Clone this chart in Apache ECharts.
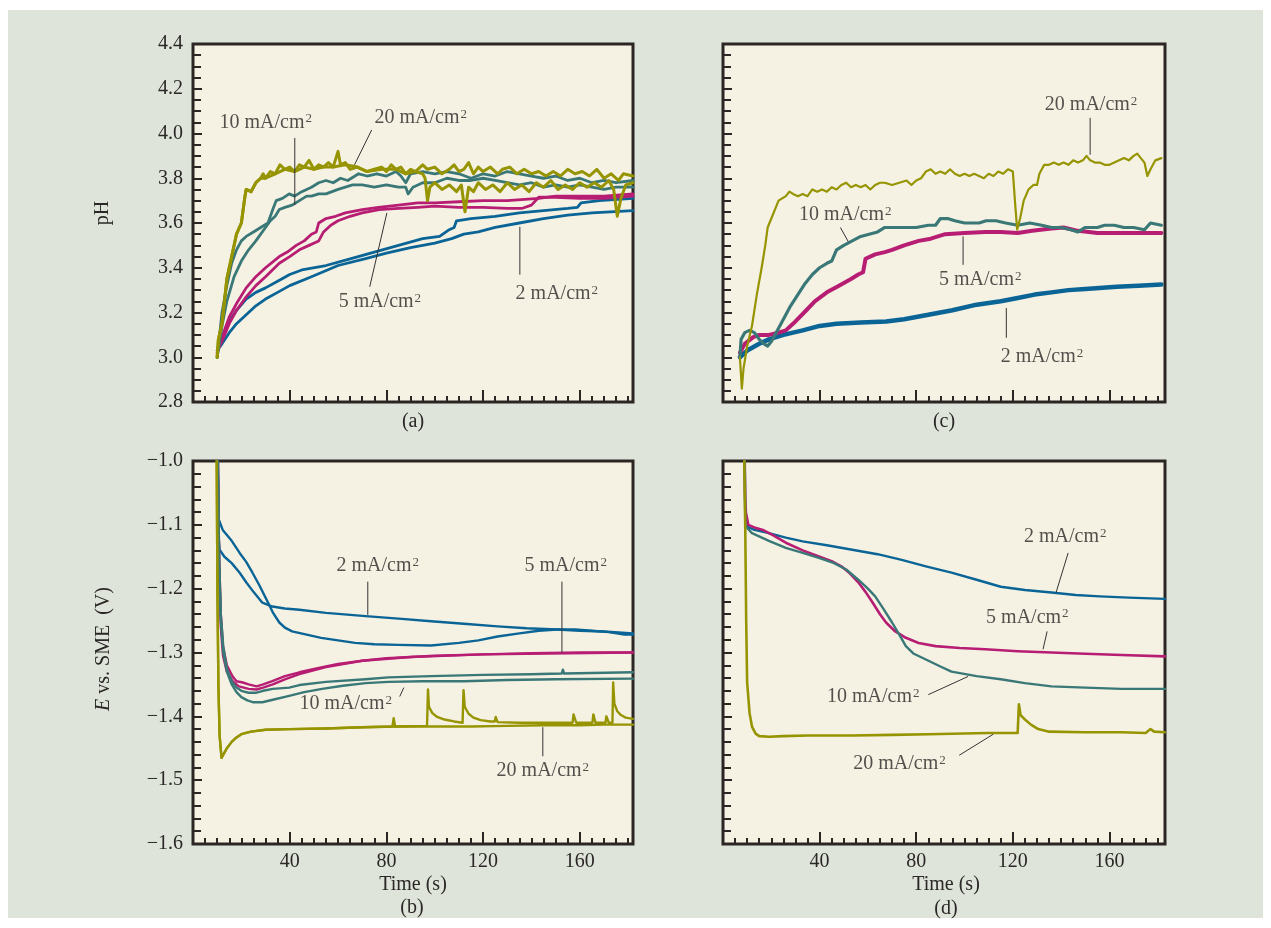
<!DOCTYPE html>
<html>
<head>
<meta charset="utf-8">
<script src="https://cdn.jsdelivr.net/npm/echarts@6/dist/echarts.min.js"></script>
<style>
  html, body { margin: 0; padding: 0; background: #ffffff; }
  #frame { position: absolute; left: 8px; top: 10px; width: 1255px; height: 908px; background: #dfe4db; }
  #chart { position: absolute; left: 0; top: 0; width: 1271px; height: 928px; }
</style>
</head>
<body>
<div id="frame"></div>
<div id="chart"></div>
<script>
// ---- Data: time (s) vs pH / potential, per current density ----
const xMajorTicks = [40, 80, 120, 160];

// (a) pH, two runs per current density
const phA20a = [[10,3.0],[10.5,3.08],[12,3.15],[14,3.35],[16,3.45],[18,3.55],[20,3.6],[21.5,3.72],[22,3.75],[24,3.74],[26,3.78],[28,3.8],[29,3.82],[30,3.8],[32,3.83],[34,3.82],[36,3.86],[38,3.84],[40,3.85],[42,3.83],[44,3.86],[46,3.85],[48,3.88],[50,3.84],[52,3.86],[54,3.85],[56,3.87],[58,3.85],[60,3.92],[61,3.86],[63,3.87],[65,3.84],[68,3.85],[70,3.84],[72,3.83],[75,3.84],[78,3.85],[80,3.83],[82,3.86],[84,3.84],[86,3.85],[88,3.82],[90,3.84],[92,3.83],[95,3.86],[97,3.84],[100,3.85],[103,3.82],[106,3.84],[108,3.86],[110,3.83],[112,3.84],[114,3.87],[116,3.82],[118,3.85],[120,3.83],[123,3.85],[126,3.82],[128,3.84],[131,3.85],[134,3.82],[137,3.84],[140,3.82],[143,3.83],[146,3.81],[149,3.83],[152,3.81],[155,3.84],[158,3.82],[161,3.83],[164,3.81],[167,3.84],[170,3.8],[173,3.82],[176,3.79],[178,3.82],[182,3.81]];
const phA20b = [[10,3.0],[10.5,3.08],[12,3.15],[14,3.35],[16,3.45],[18,3.55],[20,3.6],[21.5,3.72],[22,3.75],[24,3.74],[26,3.78],[28,3.8],[30,3.8],[34,3.82],[38,3.84],[42,3.83],[46,3.85],[50,3.84],[54,3.85],[58,3.85],[63,3.86],[68,3.85],[72,3.83],[78,3.84],[84,3.84],[88,3.82],[92,3.83],[95,3.82],[96,3.8],[97,3.7],[98,3.76],[100,3.78],[103,3.75],[106,3.77],[109,3.74],[111,3.77],[112.5,3.65],[114,3.76],[116,3.74],[118,3.78],[121,3.75],[124,3.77],[127,3.74],[130,3.78],[133,3.75],[136,3.77],[139,3.74],[142,3.78],[145,3.76],[148,3.79],[151,3.75],[154,3.77],[157,3.75],[160,3.78],[163,3.76],[166,3.78],[169,3.76],[172,3.79],[174,3.75],[175.5,3.63],[177,3.71],[179,3.77],[182,3.78]];
const phA10a = [[10,3.0],[11,3.1],[12,3.2],[14,3.32],[16,3.42],[18,3.48],[20,3.52],[22,3.54],[25,3.56],[28,3.58],[31,3.6],[33,3.66],[34.4,3.7],[37,3.71],[39.8,3.73],[42,3.72],[45,3.74],[47,3.75],[49,3.76],[52,3.78],[55,3.79],[58,3.78],[61,3.8],[64,3.79],[68.5,3.82],[72,3.81],[76,3.82],[80,3.81],[84,3.83],[86,3.81],[88,3.78],[90,3.82],[95,3.83],[100,3.82],[105,3.83],[110,3.82],[115,3.8],[120,3.82],[125,3.81],[130,3.83],[135,3.82],[140,3.81],[145,3.8],[150,3.81],[155,3.79],[160,3.8],[165,3.78],[170,3.79],[175,3.78],[182,3.79]];
const phA10b = [[10,3.0],[12,3.14],[14,3.25],[17,3.36],[20,3.43],[23,3.48],[26,3.52],[28,3.55],[30,3.58],[32,3.61],[34,3.63],[35.7,3.66],[38,3.67],[41,3.68],[44,3.7],[47,3.72],[49,3.72],[52,3.73],[55,3.73],[60,3.75],[63,3.76],[66,3.77],[70,3.77],[75,3.76],[80,3.77],[85,3.76],[88,3.76],[89,3.73],[91,3.76],[95,3.78],[100,3.78],[105,3.8],[110,3.79],[115,3.79],[120,3.8],[125,3.79],[130,3.78],[135,3.77],[140,3.78],[145,3.76],[150,3.77],[155,3.76],[160,3.77],[165,3.76],[170,3.75],[175,3.76],[182,3.76]];
const phA5a = [[10,3.02],[11,3.06],[12.3,3.1],[15,3.18],[18,3.24],[22,3.31],[26,3.36],[30,3.4],[35.7,3.45],[39,3.47],[42.7,3.5],[46,3.52],[49,3.55],[51,3.56],[52,3.6],[55,3.62],[59,3.63],[63,3.645],[70,3.66],[76.7,3.67],[85,3.68],[93,3.69],[100,3.69],[110,3.695],[120,3.7],[130,3.7],[143,3.71],[150,3.72],[160,3.72],[170,3.72],[182,3.73]];
const phA5b = [[10,3.02],[11,3.05],[12.3,3.08],[15,3.15],[18,3.21],[22,3.27],[26,3.32],[30,3.36],[35.7,3.42],[40,3.45],[44,3.48],[48,3.5],[52,3.52],[54,3.56],[57,3.59],[60,3.61],[65,3.63],[70,3.645],[77,3.66],[85,3.665],[93,3.67],[100,3.675],[110,3.67],[120,3.67],[130,3.665],[136,3.665],[140,3.68],[143,3.715],[150,3.715],[160,3.71],[170,3.71],[182,3.72]];
const phA2a = [[10,3.03],[12,3.09],[15,3.16],[18,3.21],[22,3.26],[26,3.29],[30,3.31],[35,3.34],[40,3.37],[45,3.39],[55,3.41],[65,3.44],[75,3.47],[85,3.5],[95,3.53],[102,3.54],[106,3.57],[108,3.58],[109,3.61],[115,3.62],[125,3.63],[135,3.645],[145,3.655],[155,3.665],[159,3.67],[160.5,3.69],[168,3.7],[182,3.71]];
const phA2b = [[10,3.03],[12,3.06],[15,3.11],[18,3.15],[22,3.19],[26,3.23],[30,3.26],[35,3.29],[40,3.32],[49,3.36],[60,3.41],[71,3.44],[80,3.465],[90,3.49],[100,3.51],[107,3.53],[112,3.55],[118,3.56],[125,3.58],[135,3.6],[145,3.62],[155,3.635],[165,3.645],[182,3.655]];

// (c) pH, single run per current density
const phC20 = [[7,3.0],[7.8,2.86],[8.5,2.95],[10,3.05],[12,3.14],[14,3.28],[16,3.4],[17.5,3.5],[18.5,3.58],[20,3.62],[21.5,3.66],[23,3.7],[24.5,3.71],[26,3.72],[27.5,3.74],[29,3.73],[31,3.72],[33,3.73],[35,3.72],[37,3.75],[39,3.74],[41,3.75],[43,3.74],[45,3.76],[47,3.75],[49,3.77],[51,3.78],[53,3.76],[55,3.77],[57,3.76],[59,3.77],[61,3.75],[63,3.77],[65,3.78],[67,3.78],[70,3.77],[73,3.78],[76,3.79],[78,3.77],[80,3.79],[82,3.8],[84,3.83],[86,3.84],[88,3.82],[90,3.83],[92,3.82],[94,3.84],[96,3.82],[98,3.81],[100,3.82],[102,3.81],[104,3.82],[106,3.81],[108,3.8],[110,3.82],[112,3.81],[114,3.83],[116,3.82],[118,3.84],[120,3.83],[121,3.68],[121.8,3.57],[123,3.62],[124.5,3.7],[126.5,3.75],[128.5,3.77],[130,3.77],[131,3.82],[133,3.86],[135,3.86],[137,3.87],[139,3.86],[141,3.87],[143,3.86],[145,3.88],[147,3.87],[149,3.88],[150.5,3.9],[152,3.88],[154,3.87],[156,3.87],[158,3.86],[160,3.86],[162,3.87],[164,3.88],[166,3.89],[168,3.88],[170,3.9],[171.5,3.91],[173,3.89],[174.5,3.87],[175.7,3.81],[177,3.84],[179,3.88],[181.5,3.89]];
const phC10 = [[7,3.0],[7.5,3.08],[9,3.11],[11,3.12],[13,3.11],[15,3.08],[17,3.06],[18.5,3.05],[20,3.07],[22,3.11],[25,3.17],[28,3.23],[31,3.28],[34,3.33],[37,3.37],[40,3.4],[43,3.42],[45,3.43],[47,3.48],[50,3.5],[53.5,3.52],[57,3.54],[60.5,3.55],[64,3.56],[67,3.58],[70,3.58],[75,3.58],[80,3.58],[85,3.59],[88,3.59],[90,3.62],[93,3.62],[96,3.61],[100,3.6],[103,3.6],[106,3.6],[109,3.61],[113,3.61],[117,3.6],[122,3.59],[127,3.6],[132,3.59],[136,3.58],[140,3.58],[144,3.57],[147,3.56],[150,3.58],[155,3.58],[158,3.59],[162,3.59],[166,3.58],[170,3.58],[174.5,3.57],[177,3.6],[181.5,3.59]];
const phC5 = [[7,3.02],[9,3.06],[12.5,3.09],[15,3.1],[19,3.1],[23,3.11],[26,3.12],[30,3.16],[34.5,3.21],[38,3.25],[43,3.29],[48,3.32],[53,3.35],[56,3.37],[58,3.38],[59,3.44],[63,3.46],[67,3.47],[70,3.48],[75,3.5],[81,3.52],[86,3.53],[92,3.55],[100,3.555],[108.6,3.56],[115,3.56],[122,3.555],[128,3.565],[136,3.575],[141,3.58],[147,3.565],[155,3.555],[163,3.555],[172,3.555],[181.5,3.555]];
const phC2 = [[7,3.0],[10,3.03],[15,3.06],[19,3.08],[25,3.1],[33,3.12],[40,3.14],[47,3.15],[57,3.155],[67.5,3.16],[75,3.17],[85,3.19],[95,3.21],[105,3.235],[115,3.25],[122,3.265],[129,3.28],[136,3.29],[143,3.3],[150,3.305],[163,3.315],[172,3.32],[181.5,3.325]];

// (b) potential E vs. SME (V), two runs per current density
const eB20a = [[9.8,-1.0],[10.1,-1.2],[10.5,-1.35],[11,-1.43],[11.8,-1.465],[12.5,-1.462],[14,-1.45],[16,-1.44],[18,-1.433],[20,-1.428],[24,-1.424],[30,-1.421],[40,-1.42],[55,-1.419],[70,-1.417],[82.5,-1.416],[83,-1.403],[83.6,-1.416],[100,-1.416],[115,-1.416],[130,-1.415],[145,-1.414],[160,-1.414],[170,-1.413],[182,-1.413]];
const eB20b = [[9.8,-1.0],[10.1,-1.2],[10.5,-1.35],[11,-1.43],[11.8,-1.465],[12.5,-1.462],[14,-1.45],[16,-1.44],[18,-1.433],[20,-1.428],[24,-1.424],[30,-1.421],[40,-1.42],[55,-1.419],[70,-1.417],[85,-1.416],[96.8,-1.415],[97.2,-1.358],[97.6,-1.385],[99,-1.395],[101,-1.401],[104,-1.405],[108,-1.408],[111.5,-1.41],[111.9,-1.359],[112.4,-1.385],[114,-1.396],[116,-1.402],[119,-1.406],[123,-1.408],[124.8,-1.408],[125.2,-1.401],[126,-1.409],[135,-1.41],[145,-1.41],[157,-1.41],[157.4,-1.397],[158.5,-1.41],[165.2,-1.41],[165.6,-1.397],[166.5,-1.41],[170.6,-1.41],[171,-1.4],[172,-1.41],[173.5,-1.41],[173.8,-1.347],[174.3,-1.38],[175.5,-1.392],[177,-1.398],[179,-1.402],[182,-1.404]];
const eB10a = [[10.3,-1.0],[10.8,-1.16],[11.5,-1.25],[12.5,-1.3],[14,-1.33],[16,-1.35],[18,-1.362],[20,-1.37],[22.5,-1.375],[25,-1.378],[28.7,-1.378],[33,-1.374],[39.8,-1.368],[46,-1.362],[53.4,-1.357],[62,-1.352],[71.4,-1.348],[80.8,-1.346],[95,-1.345],[112,-1.345],[130,-1.343],[150,-1.342],[182,-1.341]];
const eB10b = [[10.3,-1.0],[10.8,-1.15],[11.5,-1.24],[12.5,-1.29],[14,-1.325],[16,-1.345],[18,-1.355],[20,-1.36],[23,-1.363],[26.3,-1.363],[29,-1.36],[33,-1.357],[39.8,-1.355],[44,-1.351],[55,-1.346],[71.4,-1.342],[80.8,-1.339],[98.5,-1.337],[120,-1.335],[139.6,-1.334],[152.5,-1.333],[153,-1.327],[153.5,-1.333],[165,-1.332],[182,-1.331]];
const eB5a = [[10.3,-1.0],[10.8,-1.15],[11.5,-1.24],[12.4,-1.29],[14,-1.32],[16.4,-1.3375],[18,-1.345],[20.6,-1.347],[23,-1.35],[26.3,-1.353],[29,-1.35],[32.8,-1.345],[38,-1.337],[44,-1.331],[52,-1.324],[60,-1.318],[70,-1.313],[80,-1.309],[100,-1.305],[120,-1.303],[140,-1.301],[160,-1.3],[182,-1.3]];
const eB5b = [[10.3,-1.0],[10.8,-1.17],[11.5,-1.26],[12.4,-1.305],[14,-1.33],[16.4,-1.345],[19,-1.353],[23,-1.357],[26.3,-1.358],[29,-1.355],[33,-1.35],[38,-1.342],[44,-1.334],[55,-1.323],[70,-1.313],[90,-1.307],[120,-1.303],[182,-1.3]];
const eB2a = [[10.2,-1.0],[10.5,-1.09],[12.3,-1.108],[16,-1.125],[19.3,-1.144],[22,-1.158],[24.6,-1.175],[27.5,-1.195],[30.4,-1.217],[33,-1.237],[35.7,-1.253],[38,-1.261],[41,-1.267],[47,-1.272],[53,-1.277],[60,-1.281],[67,-1.285],[75,-1.287],[85,-1.288],[98.5,-1.289],[110,-1.285],[118,-1.281],[126,-1.275],[135,-1.27],[143,-1.266],[150.6,-1.264],[158,-1.264],[165,-1.266],[172,-1.268],[178.5,-1.272],[182,-1.272]];
const eB2b = [[10.2,-1.0],[10.6,-1.12],[11,-1.139],[13,-1.15],[16,-1.16],[19.3,-1.175],[22,-1.19],[25,-1.205],[28.7,-1.222],[32.8,-1.228],[38,-1.231],[44,-1.233],[55,-1.238],[71.4,-1.243],[85,-1.247],[98.5,-1.251],[112,-1.255],[126,-1.259],[138,-1.262],[150.6,-1.264],[160,-1.266],[170,-1.267],[182,-1.27]];

// (d) potential E vs. SME (V), single run per current density
const eD20 = [[8.8,-1.0],[9.2,-1.1],[9.6,-1.25],[10,-1.347],[11,-1.395],[12,-1.416],[13.5,-1.427],[15,-1.431],[19,-1.432],[25,-1.431],[35,-1.43],[53.5,-1.43],[70,-1.429],[85,-1.428],[100,-1.427],[110,-1.426],[122,-1.426],[122.5,-1.381],[123.2,-1.398],[125,-1.405],[127.5,-1.413],[130.5,-1.42],[135,-1.424],[150,-1.425],[165,-1.425],[175,-1.426],[177,-1.42],[178.5,-1.424],[183,-1.425]];
const eD10 = [[9,-1.0],[9.2,-1.09],[9.5,-1.103],[12,-1.113],[19,-1.125],[26,-1.136],[33,-1.144],[40,-1.152],[46,-1.16],[51,-1.17],[56,-1.186],[60,-1.2],[63,-1.212],[66.5,-1.232],[70,-1.253],[73,-1.272],[75.7,-1.29],[79,-1.302],[84,-1.311],[90,-1.322],[94.6,-1.33],[105,-1.337],[115,-1.342],[125,-1.348],[136,-1.353],[150,-1.355],[165,-1.357],[183,-1.357]];
const eD5 = [[9,-1.0],[9.2,-1.06],[9.5,-1.081],[10.5,-1.1],[13,-1.104],[16.5,-1.108],[21,-1.117],[26,-1.128],[33,-1.14],[40,-1.15],[45,-1.157],[49,-1.165],[52.5,-1.176],[56,-1.19],[59,-1.205],[62,-1.222],[65,-1.24],[67.5,-1.253],[71,-1.266],[75.7,-1.277],[81,-1.285],[88,-1.29],[98,-1.293],[108.6,-1.295],[122,-1.298],[136,-1.3],[150,-1.302],[165,-1.304],[183,-1.306]];
const eD2 = [[9,-1.0],[9.2,-1.087],[10,-1.103],[13,-1.108],[19,-1.113],[26,-1.12],[33,-1.126],[43,-1.132],[53.5,-1.139],[64,-1.146],[74,-1.155],[84,-1.165],[94.6,-1.175],[105,-1.186],[115,-1.197],[125,-1.202],[136,-1.206],[146,-1.21],[156,-1.212],[168,-1.214],[183,-1.216]];

// ---- Curve labels with leader lines (data coordinates) ----
const notesA = [
  { text: '10 mA/cm²', at: [30.1, 4.05], lead: [[42.1, 3.98], [42.1, 3.68]] },
  { text: '20 mA/cm²', at: [94.2, 4.07], lead: [[73.9, 4.016], [66.8, 3.86]] },
  { text: '5 mA/cm²', at: [77.3, 3.248], lead: [[73.1, 3.315], [80.2, 3.645]] },
  { text: '2 mA/cm²', at: [150.5, 3.284], lead: [[135.2, 3.369], [135.2, 3.583]] }
];
const notesC = [
  { text: '20 mA/cm²', at: [152.4, 4.128], lead: [[152, 4.07], [152, 3.905]] },
  { text: '10 mA/cm²', at: [50.6, 3.637], lead: [[48.6, 3.58], [51.9, 3.516]] },
  { text: '5 mA/cm²', at: [106.5, 3.346], lead: [[99.4, 3.413], [99.4, 3.54]] },
  { text: '2 mA/cm²', at: [132.1, 3.003], lead: [[117.3, 3.087], [117.3, 3.22]] }
];
const notesB = [
  { text: '2 mA/cm²', at: [76.4, -1.164], lead: [[72.3, -1.189], [72.3, -1.241]] },
  { text: '5 mA/cm²', at: [154.2, -1.164], lead: [[152.6, -1.189], [152.6, -1.3]] },
  { text: '10 mA/cm²', at: [63.2, -1.381], lead: [[85.5, -1.369], [87.2, -1.355]] },
  { text: '20 mA/cm²', at: [144.7, -1.486], lead: [[144.7, -1.4625], [144.7, -1.417]] }
];
const notesD = [
  { text: '2 mA/cm²', at: [141.7, -1.119], lead: [[142.9, -1.144], [137.9, -1.206]] },
  { text: '5 mA/cm²', at: [126, -1.245], lead: [[134.2, -1.267], [132.5, -1.295]] },
  { text: '10 mA/cm²', at: [62.2, -1.37], lead: [[85, -1.366], [101.5, -1.3375]] },
  { text: '20 mA/cm²', at: [73.1, -1.475], lead: [[97.8, -1.461], [111.9, -1.428]] }
];

// ---- Styling ----
const FONT = '"Liberation Serif", "Times New Roman", serif';
const INK = '#2a2726';
const AXIS = '#2b2623';
const C20 = '#969400', C10 = '#3a7878', C5 = '#b71e73', C2 = '#0a6496';
const FS = 20;

// grid 0 = (a), 1 = (b), 2 = (c), 3 = (d)
const grids = [
  { left: 193, top: 44, width: 440, height: 358 },
  { left: 193, top: 461, width: 440, height: 383 },
  { left: 723, top: 44, width: 442, height: 358 },
  { left: 723, top: 461, width: 442, height: 383 }
].map(g => Object.assign(g, { show: true, backgroundColor: '#f5f2e4', borderColor: AXIS, borderWidth: 3 }));

const xMax = [182, 182, 183, 183];
const xAxes = [];
grids.forEach((g, i) => {
  const showLabels = (i === 1 || i === 3);
  xAxes.push({
    type: 'value', gridIndex: i, position: 'bottom', min: 0, max: xMax[i], interval: 40,
    axisLine: { show: false }, splitLine: { show: false },
    axisTick: { show: true, inside: true, length: 12, customValues: xMajorTicks, lineStyle: { color: AXIS, width: 2 } },
    axisLabel: { show: showLabels, customValues: xMajorTicks, margin: 8, color: INK, fontFamily: FONT, fontSize: FS }
  });
  xAxes.push({
    type: 'value', gridIndex: i, position: 'bottom', min: 0, max: xMax[i], interval: 5,
    axisLine: { show: false }, splitLine: { show: false },
    axisTick: { show: true, inside: true, length: 6, lineStyle: { color: AXIS, width: 2 } },
    axisLabel: { show: false }
  });
});

function fmt(v) { return (v < 0 ? '\u2212' : '') + Math.abs(v).toFixed(1); }
function yAx(i, min, max, interval, split, showLabels) {
  return {
    type: 'value', gridIndex: i, position: 'left', min, max, interval,
    axisLine: { show: false }, splitLine: { show: false },
    axisTick: { show: true, inside: true, length: 9, lineStyle: { color: AXIS, width: 2 } },
    minorTick: { show: true, splitNumber: split, length: 8, lineStyle: { color: AXIS, width: 2 } },
    minorSplitLine: { show: false },
    axisLabel: { show: showLabels, margin: 10, color: INK, fontFamily: FONT, fontSize: FS, formatter: fmt }
  };
}
const yAxes = [
  yAx(0, 2.8, 4.4, 0.2, 4, true),
  yAx(1, -1.6, -1.0, 0.1, 5, true),
  yAx(2, 2.8, 4.4, 0.2, 4, false),
  yAx(3, -1.6, -1.0, 0.1, 5, false)
];

// rich text so the exponent of cm² is set as a raised, smaller figure
const richUnits = {
  n: { fontFamily: FONT, fontSize: FS, color: INK, fill: INK },
  s: { fontFamily: FONT, fontSize: 13, color: INK, fill: INK, verticalAlign: 'top', padding: [0, 0, 0, 1] }
};
function withSup(text) {
  const parts = text.split('²');
  return '{n|' + parts[0] + '}' + (parts.length > 1 ? '{s|2}' : '');
}

function curve(g, data, color, width) {
  return {
    type: 'line', xAxisIndex: g * 2, yAxisIndex: g, data, symbol: 'none', showSymbol: false,
    lineStyle: { color, width, join: 'round', cap: 'round' }, itemStyle: { color },
    animation: false, silent: true, z: 3
  };
}
function notes(g, list) {
  const out = list.map(n => ({
    type: 'line', xAxisIndex: g * 2, yAxisIndex: g, data: n.lead, symbol: 'none',
    lineStyle: { color: '#333', width: 1 }, animation: false, silent: true, z: 4
  }));
  out.push({
    type: 'scatter', xAxisIndex: g * 2, yAxisIndex: g, symbolSize: 1,
    itemStyle: { color: 'rgba(0,0,0,0)' },
    data: list.map(n => ({ value: n.at, label: { formatter: withSup(n.text) } })),
    label: { show: true, position: 'inside', color: INK, fontFamily: FONT, fontSize: FS, rich: richUnits },
    animation: false, silent: true, z: 5
  });
  return out;
}

const series = [
  curve(0, phA2b, C2, 2.8), curve(0, phA2a, C2, 2.8),
  curve(0, phA5b, C5, 2.8), curve(0, phA5a, C5, 2.8),
  curve(0, phA10b, C10, 2.8), curve(0, phA10a, C10, 2.8),
  curve(0, phA20b, C20, 3), curve(0, phA20a, C20, 3),
  curve(1, eB2a, C2, 2.4), curve(1, eB2b, C2, 2.4),
  curve(1, eB5a, C5, 2.4), curve(1, eB5b, C5, 2.4),
  curve(1, eB10a, C10, 2.4), curve(1, eB10b, C10, 2.4),
  curve(1, eB20b, C20, 2.4), curve(1, eB20a, C20, 2.4),
  curve(2, phC2, C2, 4.5), curve(2, phC5, C5, 4), curve(2, phC10, C10, 3.2), curve(2, phC20, C20, 2.2),
  curve(3, eD2, C2, 2.4), curve(3, eD5, C5, 2.6), curve(3, eD10, C10, 2.4), curve(3, eD20, C20, 2.6),
  ...notes(0, notesA), ...notes(1, notesB), ...notes(2, notesC), ...notes(3, notesD)
];

function txt(text, x, y, rot) {
  return {
    type: 'text', x, y, rotation: rot || 0, silent: true,
    style: { text, fill: INK, font: FS + 'px ' + FONT, align: 'center', verticalAlign: 'middle' }
  };
}
const graphic = [
  txt('(a)', 413, 422), txt('(c)', 944, 422),
  txt('Time (s)', 413, 885), txt('(b)', 412, 908),
  txt('Time (s)', 946, 885), txt('(d)', 946, 909),
  txt('pH', 103, 213, Math.PI / 2),
  {
    type: 'text', x: 104, y: 649, rotation: Math.PI / 2, silent: true,
    style: {
      text: '{i|E}{n| vs. SME  (V)}', align: 'center', verticalAlign: 'middle', fill: INK,
      rich: {
        i: { fontStyle: 'italic', fontFamily: FONT, fontSize: FS, fill: INK },
        n: { fontFamily: FONT, fontSize: FS, fill: INK }
      }
    }
  }
];

const chart = echarts.init(document.getElementById('chart'), null, { renderer: 'canvas' });
chart.setOption({
  backgroundColor: 'transparent',
  animation: false,
  grid: grids,
  xAxis: xAxes,
  yAxis: yAxes,
  series,
  graphic
});
</script>
</body>
</html>
